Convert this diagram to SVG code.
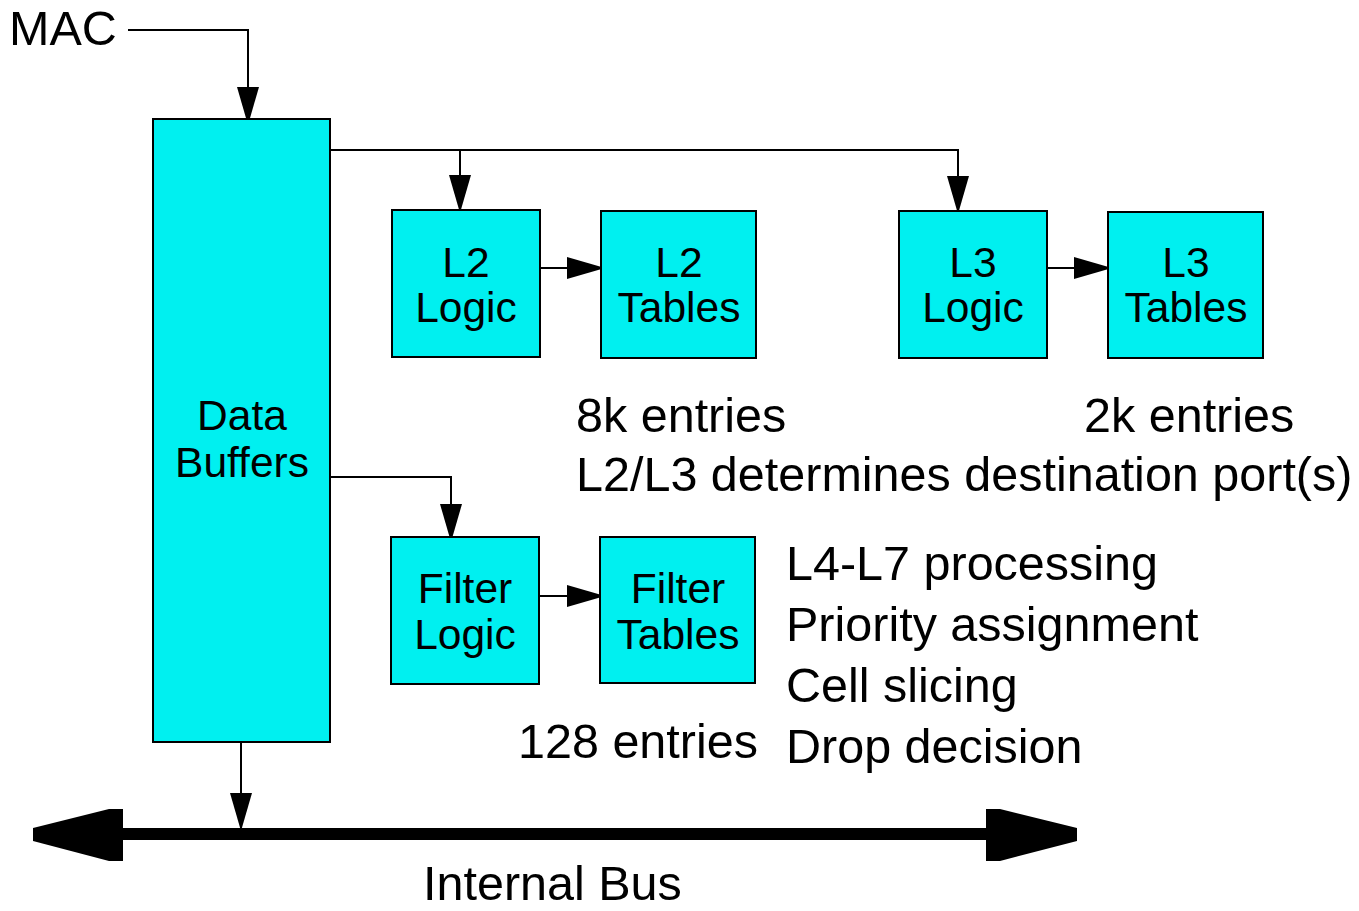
<svg xmlns="http://www.w3.org/2000/svg" width="1359" height="911" viewBox="0 0 1359 911">
<style>
.box{fill:#00F0F0;stroke:#000;stroke-width:2}
.t{font-family:"Liberation Sans",Arial,sans-serif;fill:#000}
.bl{font-size:42.5px;text-anchor:middle}
.lb{font-size:48.5px}
.c{fill:none;stroke:#000;stroke-width:2}
</style>
<defs>
<marker id="ah" markerUnits="userSpaceOnUse" markerWidth="40" markerHeight="24" refX="38" refY="12" orient="auto">
<path d="M0,1 L38,12 L0,23 Z" fill="#000"/>
</marker>
</defs>
<rect width="1359" height="911" fill="#fff"/>
<g id="connectors">
<polyline class="c" points="128,30 248,30 248,125" marker-end="url(#ah)"/>
<polyline class="c" points="330,150 958,150 958,214" marker-end="url(#ah)"/>
<polyline class="c" points="460,150 460,213" marker-end="url(#ah)"/>
<polyline class="c" points="330,477 451,477 451,542" marker-end="url(#ah)"/>
<line class="c" x1="540" y1="268" x2="605" y2="268" marker-end="url(#ah)"/>
<line class="c" x1="1047" y1="268" x2="1112" y2="268" marker-end="url(#ah)"/>
<line class="c" x1="539" y1="596" x2="605" y2="596" marker-end="url(#ah)"/>
<line class="c" x1="241" y1="742" x2="241" y2="831" marker-end="url(#ah)"/>
</g>
<g id="bus">
<rect x="120" y="828" width="870" height="12" fill="#000"/>
<polygon points="123,809 109,809 33,828 33,841 109,861 123,861" fill="#000"/>
<polygon points="986,809 1000,809 1077,828 1077,841 1000,861 986,861" fill="#000"/>
<text class="t lb" x="423" y="900">Internal Bus</text>
</g>
<g id="mac"><text class="t lb" x="9" y="45">MAC</text></g>
<g id="data-buffers">
<rect class="box" x="153" y="119" width="177" height="623"/>
<text class="t bl" x="242" y="430">Data</text>
<text class="t bl" x="242" y="477">Buffers</text>
</g>
<g id="l2-logic">
<rect class="box" x="392" y="210" width="148" height="147"/>
<text class="t bl" x="466" y="277">L2</text>
<text class="t bl" x="466" y="322">Logic</text>
</g>
<g id="l2-tables">
<rect class="box" x="601" y="211" width="155" height="147"/>
<text class="t bl" x="679" y="277">L2</text>
<text class="t bl" x="679" y="322">Tables</text>
</g>
<g id="l3-logic">
<rect class="box" x="899" y="211" width="148" height="147"/>
<text class="t bl" x="973" y="277">L3</text>
<text class="t bl" x="973" y="322">Logic</text>
</g>
<g id="l3-tables">
<rect class="box" x="1108" y="212" width="155" height="146"/>
<text class="t bl" x="1186" y="277">L3</text>
<text class="t bl" x="1186" y="322">Tables</text>
</g>
<g id="filter-logic">
<rect class="box" x="391" y="537" width="148" height="147"/>
<text class="t bl" x="465" y="603">Filter</text>
<text class="t bl" x="465" y="649">Logic</text>
</g>
<g id="filter-tables">
<rect class="box" x="600" y="537" width="155" height="146"/>
<text class="t bl" x="678" y="603">Filter</text>
<text class="t bl" x="678" y="649">Tables</text>
</g>
<g id="notes">
<text class="t lb" x="576" y="432">8k entries</text>
<text class="t lb" x="1084" y="432">2k entries</text>
<text class="t lb" x="576" y="491">L2/L3 determines destination port(s)</text>
<text class="t lb" x="786" y="580">L4-L7 processing</text>
<text class="t lb" x="786" y="641">Priority assignment</text>
<text class="t lb" x="786" y="702">Cell slicing</text>
<text class="t lb" x="786" y="763">Drop decision</text>
<text class="t lb" x="518" y="758">128 entries</text>
</g>
</svg>
